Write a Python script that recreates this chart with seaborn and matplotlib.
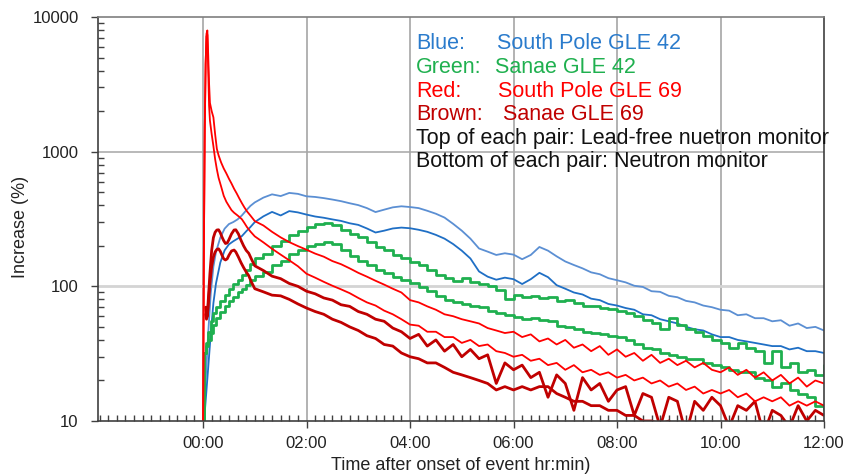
import numpy as np
import pandas as pd
import matplotlib
matplotlib.use("Agg")
import matplotlib.pyplot as plt
import matplotlib.ticker as mticker
import seaborn as sns

# time grid after the first hour (minutes after onset)
late_min = list(range(60, 721, 10))

# South Pole GLE 42 (blue)
blue_early_min = [0, 3, 6, 9, 12, 15, 20, 25, 30, 35, 40, 45, 50, 55]
blue_top_early = [8, 20, 45, 90, 140, 180, 230, 268, 290, 300, 314, 336, 366, 396]
blue_bot_early = [8, 14, 25, 45, 75, 105, 150, 185, 205, 216, 226, 236, 256, 276]
blue_top_late = [420, 456, 482, 468, 494, 486, 466, 461, 452, 441, 429, 414, 401, 381, 356, 371, 386, 393,
                 388, 381, 364, 346, 324, 291, 259, 226, 191, 181, 171, 176, 172, 159, 171, 196, 184, 167,
                 153, 144, 136, 127, 123, 115, 111, 107, 101, 99, 92, 91, 85, 83, 78, 76, 72, 70, 67, 66,
                 61, 62, 58, 58, 55, 56, 51, 53, 49, 50, 47]
blue_bot_late = [300, 331, 357, 336, 362, 354, 341, 330, 323, 314, 306, 294, 286, 269, 251, 259, 269, 273,
                 270, 263, 254, 241, 226, 206, 184, 161, 129, 118, 112, 116, 113, 104, 113, 126, 117, 102,
                 96, 90, 87, 81, 79, 74, 72, 69, 67, 62, 61, 57, 55, 53, 50, 48, 47, 44, 42, 42,
                 40, 39, 38, 37, 36, 36, 34, 35, 33, 33, 32]

# Sanae GLE 42 (green)
green_early_min = [0, 1, 3, 6, 9, 12, 15, 20, 25, 30, 35, 40, 45, 50, 55]
green_top_early = [8, 32, 38, 46, 55, 63, 70, 78, 86, 95, 104, 112, 121, 133, 147]
green_bot_early = [8, 32, 36, 40, 45, 52, 58, 64, 71, 78, 84, 90, 95, 103, 112]
green_top_late = [161, 175, 200, 218, 240, 258, 275, 290, 296, 285, 262, 245, 232, 215, 195, 185, 172, 162,
                  152, 145, 132, 122, 115, 110, 115, 108, 104, 100, 94, 80, 86, 84, 85, 82, 84, 78,
                  79, 75, 72, 71, 69, 68, 66, 63, 60, 56, 53, 48, 58, 52, 48, 46, 43, 40, 38, 35,
                  38, 35, 33, 27, 33, 25, 27, 23, 24, 22, 26]
green_bot_late = [119, 128, 143, 155, 175, 186, 200, 208, 215, 205, 185, 168, 155, 145, 133, 125, 118, 111,
                  105, 99, 92, 85, 79, 77, 74, 72, 70, 66, 63, 61, 59, 57, 58, 56, 55, 51,
                  50, 48, 46, 45, 44, 43, 42, 40, 37, 35, 34, 32, 31, 30, 29, 29, 27, 26, 25, 24,
                  23, 23, 21, 20, 18, 19, 17, 16, 15, 13, 12]

# South Pole GLE 69 (red)
red_early_min = [0, 1, 2, 3, 4, 5, 6, 7, 8, 10, 12, 14, 16, 18, 21, 24, 27, 30, 33, 36, 39, 42, 45, 48, 51, 55]
red_top_early = [8, 200, 1500, 4500, 7500, 7950, 5200, 3200, 2300, 2000, 1800, 1350, 1050, 940, 830, 750,
                 690, 630, 580, 530, 490, 450, 415, 385, 360, 335]
red_bot_early = [8, 200, 1500, 4500, 7200, 7400, 4000, 2200, 1700, 1350, 1100, 880, 740, 640, 550, 470,
                 425, 395, 368, 352, 340, 328, 315, 295, 275, 255]
red_top_late = [305, 283, 254, 231, 213, 199, 187, 175, 166, 154, 146, 136, 126, 118, 110, 103, 96, 90,
                79, 76, 71, 67, 62, 60, 57, 55, 53, 49, 47, 45, 46, 42, 44, 39, 41, 37,
                40, 35, 37, 33, 36, 31, 34, 30, 32, 28, 31, 27, 29, 26, 28, 25, 27, 24, 23, 25,
                22, 24, 21, 23, 20, 22, 19, 21, 18, 20, 19]
red_bot_late = [235, 212, 190, 172, 156, 141, 124, 116, 108, 101, 95, 89, 82, 76, 72, 66, 62, 57,
                52, 51, 46, 46, 42, 42, 38, 40, 36, 37, 33, 32, 30, 31, 28, 29, 26, 27,
                24, 26, 23, 24, 22, 23, 21, 22, 20, 21, 19, 20, 18, 19, 17, 18, 16, 17, 16, 17,
                15, 16, 14, 15, 14, 15, 13, 14, 13, 14, 13]

# Sanae GLE 69 (brown)
brown_early_min = [3, 4, 5, 6, 8, 10, 12, 14, 16, 18, 20, 22, 24, 26, 28, 30, 33, 36, 38, 41, 44, 47, 50, 53, 56]
brown_top_early = [70, 62, 60, 78, 125, 185, 230, 252, 262, 263, 250, 232, 218, 208, 210, 222, 245, 262,
                   263, 245, 220, 200, 185, 176, 160]
brown_bot_early = [62, 57, 60, 72, 105, 140, 165, 180, 188, 190, 182, 170, 160, 157, 160, 170, 183, 186,
                   180, 165, 150, 138, 128, 120, 108]
brown_top_late = [142, 131, 119, 114, 105, 100, 92, 88, 82, 79, 73, 71, 65, 62, 57, 55, 49, 46,
                  41, 44, 36, 40, 33, 37, 30, 34, 29, 31, 19, 27, 24, 26, 21, 23, 15, 22,
                  19, 12, 21, 17, 19, 14, 17, 18, 11, 16, 15, 9, 15, 14, 8, 14, 12, 15,
                  13, 9, 13, 12, 14, 8, 12, 11, 9, 13, 10, 12, 11]
brown_bot_late = [96, 91, 86, 85, 80, 74, 69, 65, 62, 57, 54, 50, 47, 43, 41, 37, 36, 32,
                  30, 29, 27, 27, 25, 23, 22, 21, 20, 19, 17, 18, 17, 18, 17, 18, 18, 16,
                  15, 14, 14, 13, 13, 12, 12, 11, 11, 10, 10, 9.5, 10, 9, 9.5, 8.5, 9, 8.5,
                  9, 8, 9, 8, 8.5, 7.8, 8.5, 7.5, 8, 7.5, 8, 7.5, 8]

legend_rows = [("Blue:", "South Pole GLE 42", "#2a7bcc"),
               ("Green:", "Sanae GLE 42", "#1fb04f"),
               ("Red:", "South Pole GLE 69", "#ff0000"),
               ("Brown:", "Sanae GLE 69", "#c00000")]
note_rows = ["Top of each pair: Lead-free nuetron monitor",
             "Bottom of each pair: Neutron monitor"]

sns.set_style("white")
plt.rcParams['font.family'] = ['Liberation Sans', 'DejaVu Sans']

fig = plt.figure(figsize=(8.47, 4.76), dpi=100)
ax = fig.add_axes([98 / 847, 55 / 476, 726 / 847, 404 / 476])


def series(early_min, early_vals, late_vals):
    hrs = np.array(list(early_min) + late_min) / 60.0
    return hrs, np.array(list(early_vals) + list(late_vals), dtype=float)


lines = [
    (blue_early_min, blue_top_early, blue_top_late, "#5b8fd3", 1.3, None),
    (blue_early_min, blue_bot_early, blue_bot_late, "#1f6fc5", 1.3, None),
    (green_early_min, green_top_early, green_top_late, "#1fb04f", 2.0, "steps-post"),
    (green_early_min, green_bot_early, green_bot_late, "#1fb04f", 2.0, "steps-post"),
    (brown_early_min, brown_top_early, brown_top_late, "#c00000", 2.0, None),
    (brown_early_min, brown_bot_early, brown_bot_late, "#c00000", 2.0, None),
    (red_early_min, red_top_early, red_top_late, "#ff0000", 1.3, None),
    (red_early_min, red_bot_early, red_bot_late, "#ff0000", 1.3, None),
]
for em, ev, lv, col, lw, ds in lines:
    x, y = series(em, ev, lv)
    kw = {"drawstyle": ds} if ds else {}
    sns.lineplot(x=x, y=y, ax=ax, color=col, lw=lw, estimator=None, sort=False, **kw)

ax.set_yscale("log")
ax.set_ylim(10, 10000)
ax.set_xlim(-2.03, 12)

# grid
for gx in range(0, 12, 2):
    ax.axvline(gx, color="#a6a6a6", lw=1.2, zorder=0)
ax.axhline(1000, color="#a6a6a6", lw=1.1, zorder=0)
ax.axhline(100, color="#d4d4d4", lw=2.0, zorder=0)

ax.xaxis.set_major_locator(mticker.FixedLocator(list(range(0, 13, 2))))
ax.xaxis.set_major_formatter(mticker.FuncFormatter(lambda v, p: "%02d:00" % int(round(v))))
ax.xaxis.set_minor_locator(mticker.MultipleLocator(1 / 6))
ax.yaxis.set_major_locator(mticker.FixedLocator([10, 100, 1000, 10000]))
ax.yaxis.set_major_formatter(mticker.FuncFormatter(lambda v, p: "%d" % v))
ax.yaxis.set_minor_locator(mticker.LogLocator(base=10, subs=np.arange(2, 10)))
ax.yaxis.set_minor_formatter(mticker.NullFormatter())

ax.tick_params(axis="both", which="both", bottom=True, left=True, top=False, right=False)
ax.tick_params(axis="both", which="major", direction="out", length=5, width=1, color="#404040",
               labelsize=12, labelcolor="#222222")
ax.tick_params(axis="both", which="minor", direction="in", length=4, width=1, color="#404040")
ax.tick_params(axis="y", which="major", pad=9)
ax.tick_params(axis="x", which="major", pad=6)

for s in ["left", "bottom", "right"]:
    ax.spines[s].set_color("#404040")
    ax.spines[s].set_linewidth(1.2)
ax.spines["top"].set_color("#7f7f7f")
ax.spines["top"].set_linewidth(1.2)

ax.set_xlabel("Time after onset of event hr:min)", fontsize=13, color="#222222")
ax.set_ylabel("Increase (%)", fontsize=13, color="#222222")
ax.xaxis.set_label_coords(0.5, -0.09)
ax.yaxis.set_label_coords(-0.095, 0.48)

baselines = [49, 73, 97, 120]
name_x = [497, 495, 498, 503]
for (lab, name, col), by, nx in zip(legend_rows, baselines, name_x):
    fig.text(416 / 847, 1 - by / 476, lab, color=col, fontsize=15.5, va="baseline", ha="left")
    fig.text(nx / 847, 1 - by / 476, name, color=col, fontsize=15.5, va="baseline", ha="left")
for txt, by in zip(note_rows, [144, 167]):
    fig.text(416 / 847, 1 - by / 476, txt, color="#111111", fontsize=15.5, va="baseline", ha="left")

fig.savefig("out.png", dpi=100)
